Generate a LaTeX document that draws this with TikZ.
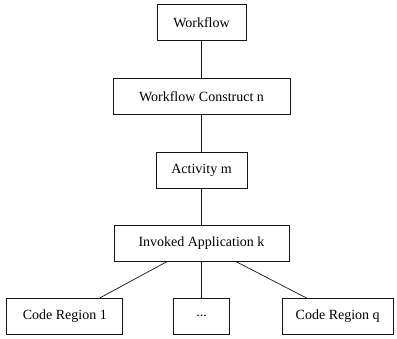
\documentclass[tikz,border=0pt]{standalone}
\usepackage{fontspec}
\setmainfont{Liberation Serif}
\usepackage{xcolor}
\usetikzlibrary{positioning, calc}
\definecolor{boxline}{RGB}{20,20,20}
\tikzset{
  levelbox/.style={
    rectangle, draw=boxline, line width=0.7pt,
    fill=white,
    minimum height=36pt,
    align=center, font=\fontsize{14}{16}\selectfont, inner sep=3pt
  },
  treeline/.style={
    draw=boxline, line width=0.7pt
  }
}
\begin{document}
\begin{tikzpicture}[node distance=37pt and 50pt]
  \useasboundingbox (0,0) rectangle (397pt,338pt);

  \node[levelbox, minimum width=89pt] (wf) at (201.5pt,315.5pt) {Workflow};
  \node[levelbox, minimum width=177pt, below=of wf] (construct) {Workflow Construct n};
  \node[levelbox, minimum width=91pt, below=of construct] (activity) {Activity m};
  \node[levelbox, minimum width=175pt, below=of activity] (invoked) {Invoked Application k};

  \node[levelbox, minimum width=56pt, below=36pt of invoked] (dots) {...};
  \node[levelbox, minimum width=116pt, left=of dots] (code1) {Code Region 1};
  \node[levelbox, minimum width=111pt, right=52pt of dots] (codeq) {Code Region q};

  \draw[treeline] (wf) -- (construct);
  \draw[treeline] (construct) -- (activity);
  \draw[treeline] (activity) -- (invoked);

  \draw[treeline] ($(invoked.south west)!0.3!(invoked.south east)$) -- ($(code1.north west)!0.8!(code1.north east)$);
  \draw[treeline] (invoked) -- (dots);
  \draw[treeline] ($(invoked.south west)!0.7!(invoked.south east)$) -- ($(codeq.north west)!0.22!(codeq.north east)$);
\end{tikzpicture}
\end{document}
